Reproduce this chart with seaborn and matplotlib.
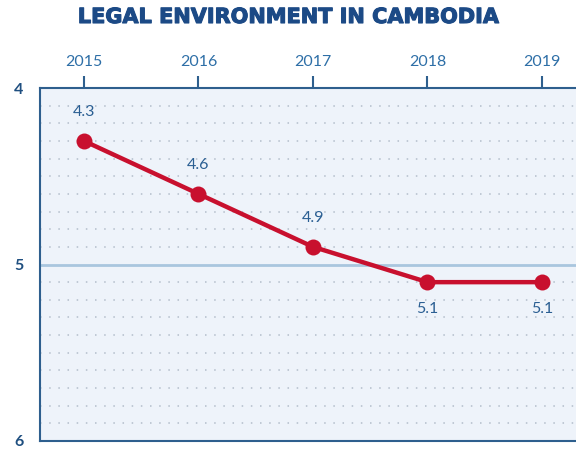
import matplotlib
matplotlib.use("Agg")
import matplotlib.pyplot as plt
import matplotlib.patheffects as pe
import seaborn as sns
import pandas as pd
import numpy as np

years = [2015, 2016, 2017, 2018, 2019]
scores = [4.3, 4.6, 4.9, 5.1, 5.1]
labels = ["4.3", "4.6", "4.9", "5.1", "5.1"]
label_pos = ["above", "above", "above", "below", "below"]
yticks = [4, 5, 6]
title = "LEGAL ENVIRONMENT IN CAMBODIA"

sns.set_theme(style="white")
plt.rcParams['font.family'] = ['Lato', 'DejaVu Sans']

df = pd.DataFrame({"year": years, "score": scores})

fig = plt.figure(figsize=(5.76, 4.49), dpi=100)
ax = fig.add_axes([40/576, 1-441/449, 1-40/576, (441-88)/449])
ax.set_facecolor("#eef3fa")

# dotted minor grid
for yv in np.arange(4.1, 6.0, 0.1):
    if abs(yv - 5) > 1e-6:
        ax.axhline(yv, color="#b3bdca", lw=1.1, ls=(0, (1, 5)), zorder=1)
ax.axhline(5, color="#a9c6de", lw=2, zorder=1)

sns.lineplot(data=df, x="year", y="score", ax=ax, color="#c8102e", lw=3.2,
             marker="o", markersize=11.5, markeredgewidth=0, zorder=3)

for x, y, t, p in zip(years, scores, labels, label_pos):
    dy = -29 if p == "above" else 27
    ax.annotate(t, (x, y), xytext=(0, -dy), textcoords="offset pixels",
                ha="center", va="center", fontsize=11.5, color="#2b5f93")

ax.set_ylim(6, 4)
ax.set_xlim(2015 - 44/114.5, 2019 + 34/114.5)
ax.set_yticks(yticks)
ax.set_yticklabels([str(v) for v in yticks], fontsize=11.5, fontweight="bold", color="#1f4f80")
ax.set_xticks(years)
ax.set_xticklabels([str(v) for v in years], fontsize=11.5, color="#2e6fa7")
ax.xaxis.tick_top()
ax.tick_params(axis="x", direction="out", length=9, width=1.5, color="#2e5f8e", pad=5)
ax.tick_params(axis="y", direction="out", length=9, width=1.5, color="#2e5f8e", pad=3)
ax.set_xlabel("")
ax.set_ylabel("")
for s in ["left", "top", "bottom"]:
    ax.spines[s].set_visible(True)
    ax.spines[s].set_color("#2e5f8e")
    ax.spines[s].set_linewidth(1.5)
ax.spines["right"].set_visible(False)

fig.text(0.5, 1 - 17/449, title, ha="center", va="center", fontsize=15,
         fontweight="bold", color="#1c4a86", family=["DejaVu Sans"],
         path_effects=[pe.withStroke(linewidth=0.8, foreground="#1c4a86")])

fig.savefig("out.png", dpi=100, facecolor="white")
